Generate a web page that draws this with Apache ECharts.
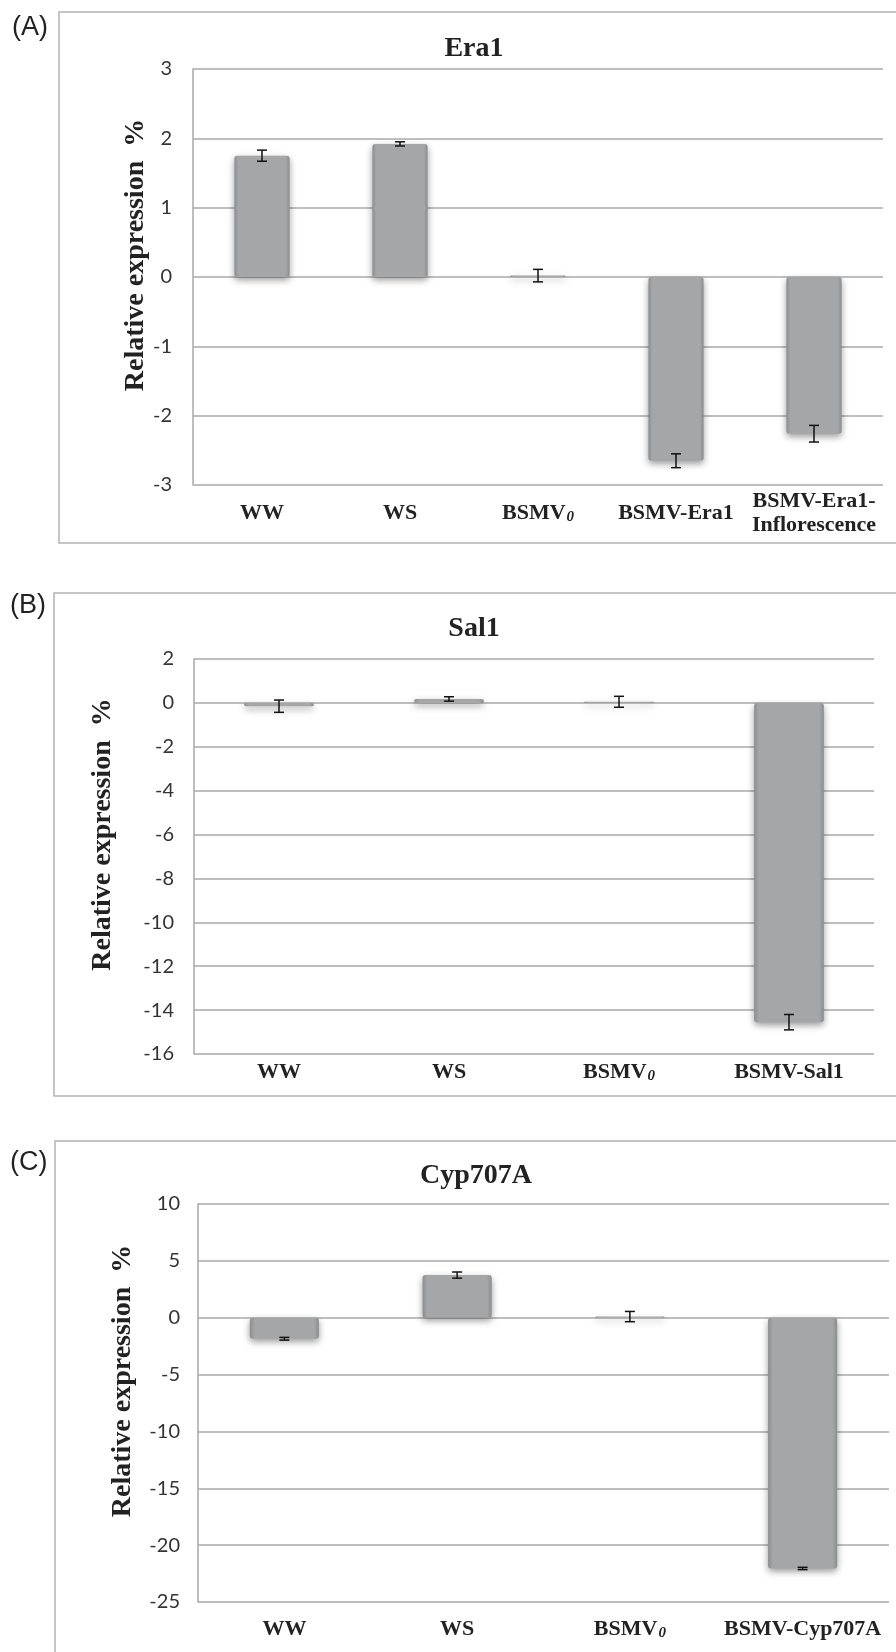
<!DOCTYPE html>
<html>
<head>
<meta charset="utf-8">
<script src="https://cdn.jsdelivr.net/npm/echarts@6/dist/echarts.min.js"></script>
<style>
  html, body { margin: 0; padding: 0; background: #fff; }
  #main { width: 896px; height: 1652px; }
</style>
</head>
<body>
<div id="main"></div>
<script>
// categories and values
var era1Cats = ['WW', 'WS', 'BSMV0', 'BSMV-Era1', 'BSMV-Era1-\nInflorescence'];
var era1Val = [1.75, 1.92, 0.02, -2.65, -2.26];
var era1Err = [0.08, 0.03, 0.09, 0.10, 0.12];

var sal1Cats = ['WW', 'WS', 'BSMV0', 'BSMV-Sal1'];
var sal1Val = [-0.15, 0.18, 0.05, -14.55];
var sal1Err = [0.28, 0.10, 0.25, 0.35];

var cypCats = ['WW', 'WS', 'BSMV0', 'BSMV-Cyp707A'];
var cypVal = [-1.85, 3.75, 0.10, -22.05];
var cypErr = [0.12, 0.27, 0.45, 0.10];

var yNames = 'Relative expression  %';

var serif = '"Liberation Serif", "DejaVu Serif", serif';
var sans = 'Lato, "Liberation Sans", sans-serif';
var gridColor = '#a9a9a9';

var myChart = echarts.init(document.getElementById('main'));

function errData(vals, errs) {
  return vals.map(function (v, i) { return [i, v, errs[i]]; });
}

function errItem(params, api) {
  var i = api.value(0), v = api.value(1), e = api.value(2);
  var hi = api.coord([i, v + e]);
  var lo = api.coord([i, v - e]);
  var w = 5;
  var st = { stroke: '#111', lineWidth: 1.5 };
  return {
    type: 'group',
    children: [
      { type: 'line', shape: { x1: hi[0], y1: hi[1], x2: lo[0], y2: lo[1] }, style: st },
      { type: 'line', shape: { x1: hi[0] - w, y1: hi[1], x2: hi[0] + w, y2: hi[1] }, style: st },
      { type: 'line', shape: { x1: lo[0] - w, y1: lo[1], x2: lo[0] + w, y2: lo[1] }, style: st }
    ]
  };
}

var barStyle = {
  color: new echarts.graphic.LinearGradient(0, 0, 1, 0, [
    { offset: 0, color: '#8c8d8f' },
    { offset: 0.07, color: '#a5a6a8' },
    { offset: 0.93, color: '#a5a6a8' },
    { offset: 1, color: '#8c8d8f' }
  ]),
  borderRadius: 3,
  shadowBlur: 7,
  shadowOffsetY: 3,
  shadowColor: 'rgba(0,0,0,0.4)'
};

function xAxisFor(idx, cats, margin) {
  return {
    type: 'category',
    gridIndex: idx,
    data: cats,
    axisLine: { show: false, onZero: false },
    axisTick: { show: false },
    axisLabel: {
      interval: 0,
      margin: margin,
      verticalAlign: 'middle',
      fontFamily: serif,
      fontWeight: 'bold',
      fontSize: 22,
      lineHeight: 24,
      color: '#222',
      formatter: function (v) {
        return v === 'BSMV0' ? 'BSMV{s|0}' : v;
      },
      rich: {
        s: {
          fontFamily: serif,
          fontWeight: 'bold',
          fontStyle: 'italic',
          fontSize: 15,
          color: '#222',
          verticalAlign: 'bottom',
          padding: [10, 0, 0, 1]
        }
      }
    }
  };
}

function yAxisFor(idx, min, max, step, nameGap, labelMargin) {
  return {
    type: 'value',
    gridIndex: idx,
    min: min,
    max: max,
    interval: step,
    name: yNames,
    nameLocation: 'middle',
    nameRotate: 90,
    nameGap: nameGap,
    nameMoveOverlap: false,
    nameTextStyle: {
      fontFamily: serif,
      fontWeight: 'bold',
      fontSize: 28,
      color: '#222',
      padding: [0, 0, 0, 44]
    },
    axisLine: { show: true, lineStyle: { color: gridColor, width: 1.5 } },
    axisTick: { show: false },
    axisLabel: { margin: labelMargin, fontFamily: sans, fontSize: 20, color: '#333' },
    splitLine: { lineStyle: { color: gridColor, width: 1.5 } }
  };
}

function textEl(txt, x, y, font, align) {
  return {
    type: 'text', x: x, y: y, z: 10,
    style: { text: txt, font: font, fill: '#222', align: align, verticalAlign: 'middle' }
  };
}

function boxEl(x, y, w, h) {
  return {
    type: 'rect', z: -1,
    shape: { x: x, y: y, width: w, height: h },
    style: { fill: null, stroke: '#b3b3b3', lineWidth: 1.5 }
  };
}

option = {
  animation: false,
  backgroundColor: '#fff',
  grid: [
    { left: 193, top: 69, width: 690, height: 416 },
    { left: 194, top: 659, width: 680, height: 395 },
    { left: 198, top: 1204, width: 691, height: 398 }
  ],
  xAxis: [
    xAxisFor(0, era1Cats, 28),
    xAxisFor(1, sal1Cats, 18),
    xAxisFor(2, cypCats, 27)
  ],
  yAxis: [
    yAxisFor(0, -3, 3, 1, 43, 21),
    yAxisFor(1, -16, 2, 2, 77, 20),
    yAxisFor(2, -25, 10, 5, 61, 18)
  ],
  graphic: [
    boxEl(59, 12, 900, 531),
    boxEl(54, 593, 900, 503),
    boxEl(55, 1141, 900, 600),
    textEl('(A)', 12, 28, '27px "Liberation Sans", sans-serif', 'left'),
    textEl('(B)', 10, 606, '27px "Liberation Sans", sans-serif', 'left'),
    textEl('(C)', 10, 1163, '27px "Liberation Sans", sans-serif', 'left'),
    textEl('Era1', 474, 49, 'bold 28px ' + serif, 'center'),
    textEl('Sal1', 474, 629, 'bold 28px ' + serif, 'center'),
    textEl('Cyp707A', 476, 1176, 'bold 28px ' + serif, 'center')
  ],
  series: [
    { type: 'bar', xAxisIndex: 0, yAxisIndex: 0, data: era1Val, barWidth: '40%', itemStyle: barStyle },
    { type: 'custom', xAxisIndex: 0, yAxisIndex: 0, data: errData(era1Val, era1Err), renderItem: errItem, encode: { x: 0, y: 1 }, z: 5 },
    { type: 'bar', xAxisIndex: 1, yAxisIndex: 1, data: sal1Val, barWidth: '41%', itemStyle: barStyle },
    { type: 'custom', xAxisIndex: 1, yAxisIndex: 1, data: errData(sal1Val, sal1Err), renderItem: errItem, encode: { x: 0, y: 1 }, z: 5 },
    { type: 'bar', xAxisIndex: 2, yAxisIndex: 2, data: cypVal, barWidth: '40%', itemStyle: barStyle },
    { type: 'custom', xAxisIndex: 2, yAxisIndex: 2, data: errData(cypVal, cypErr), renderItem: errItem, encode: { x: 0, y: 1 }, z: 5 }
  ]
};
myChart.setOption(option);
</script>
</body>
</html>
